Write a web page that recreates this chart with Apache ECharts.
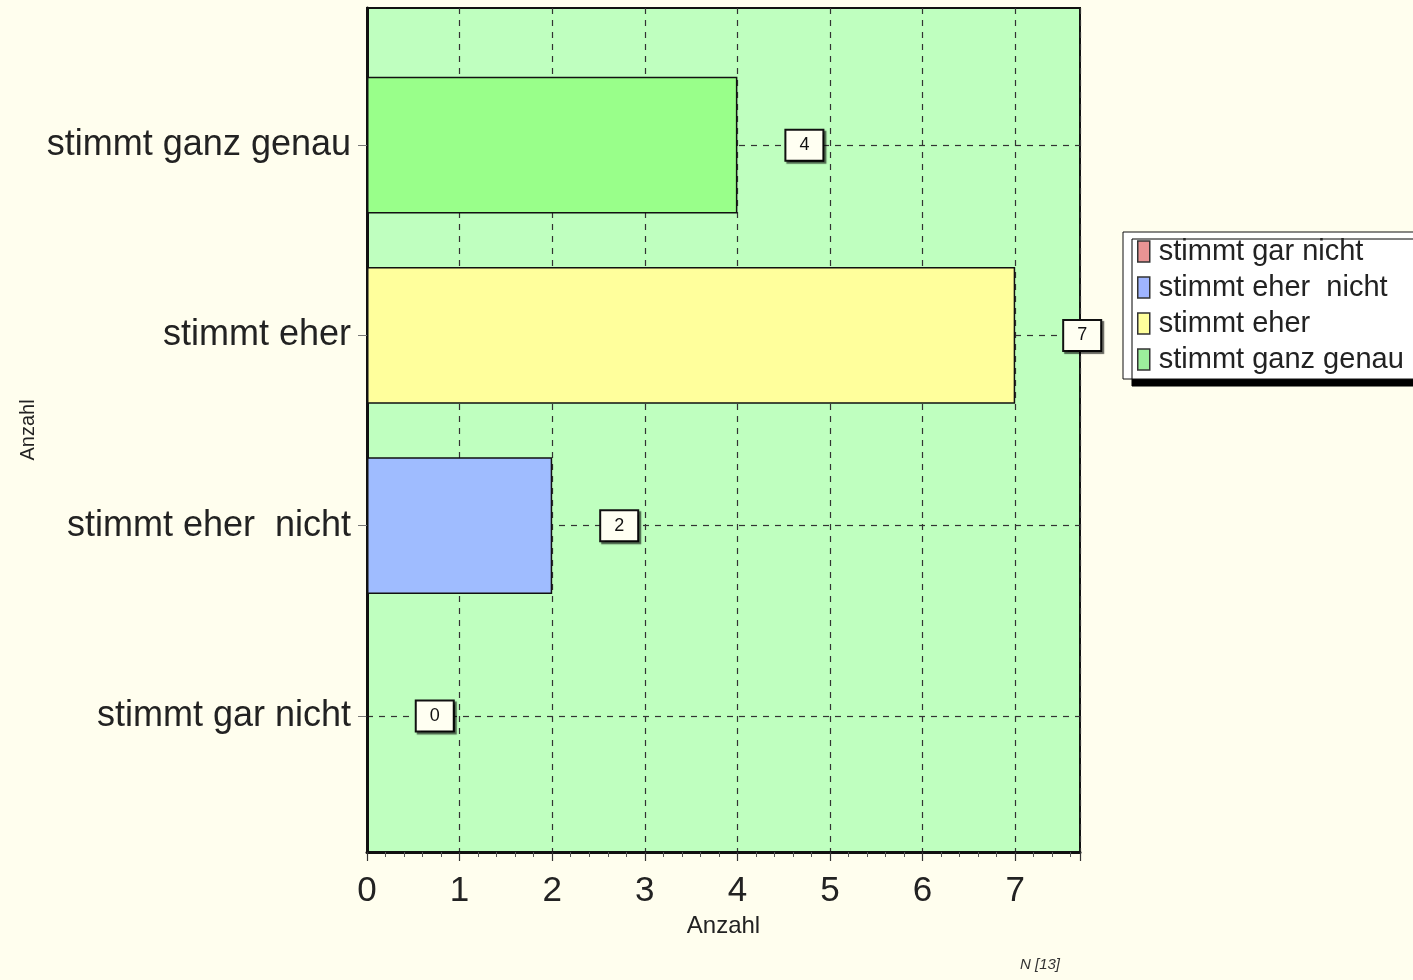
<!DOCTYPE html>
<html>
<head>
<meta charset="utf-8">
<script src="https://cdn.jsdelivr.net/npm/echarts@6/dist/echarts.min.js"></script>
<style>
html,body{margin:0;padding:0;background:#fffeee;}
#chart{width:1413px;height:980px;}
</style>
</head>
<body>
<div id="chart"></div>
<script>
const categories = ['stimmt gar nicht', 'stimmt eher  nicht', 'stimmt eher', 'stimmt ganz genau'];
const values = [0, 2, 7, 4];
const barColors = ['#e89494', '#9fbcff', '#ffff9c', '#99ff8a'];
const legendColors = ['#e89494', '#9fb4ff', '#ffff9c', '#9cee9c'];
const axisName = 'Anzahl';
const footnote = 'N [13]';

const chart = echarts.init(document.getElementById('chart'));
const font = 'Liberation Sans, Arial, sans-serif';

const series = categories.map((c, i) => ({
  name: c,
  type: 'bar',
  xAxisIndex: 1,
  yAxisIndex: 1,
  stack: 's',
  barCategoryGap: '28%',
  itemStyle: { color: barColors[i], borderColor: '#111', borderWidth: 1.5 },
  label: {
    show: true,
    position: 'right',
    distance: 49,
    color: '#111',
    fontFamily: font,
    fontSize: 18,
    backgroundColor: '#fffff2',
    borderColor: '#111',
    borderWidth: 2,
    padding: [6, 13, 5, 13],
    shadowColor: 'rgba(0,0,0,0.6)',
    shadowOffsetX: 2,
    shadowOffsetY: 2,
    shadowBlur: 1
  },
  data: values.map((v, j) => (j === i ? v : '-'))
}));

const legendData = categories.map((c, i) => ({
  name: c,
  itemStyle: { color: legendColors[i], borderColor: '#333', borderWidth: 1.5 }
}));

chart.setOption({
  backgroundColor: '#fffeee',
  animation: false,
  textStyle: { fontFamily: font },
  grid: [
    { left: 367, top: 8, width: 713, height: 844, show: true, backgroundColor: '#bfffbf', borderColor: '#111', borderWidth: 2 },
    { left: 367, top: 50, width: 713, height: 761 },
    { left: 367, top: 145, width: 713, height: 571 }
  ],
  xAxis: [
    {
      gridIndex: 0, type: 'value', min: 0, max: 7.7, interval: 1,
      name: axisName, nameLocation: 'middle', nameGap: 62,
      nameTextStyle: { fontSize: 24, color: '#222', fontFamily: font },
      axisLine: { show: true, lineStyle: { color: '#111', width: 3 } },
      axisTick: { show: true, length: 9, lineStyle: { color: '#333', width: 1.2 } },
      minorTick: { show: true, splitNumber: 5, length: 5, lineStyle: { color: '#555' } },
      axisLabel: { fontSize: 35, color: '#222', margin: 22, showMaxLabel: false, fontFamily: font },
      splitLine: { show: true, lineStyle: { color: '#333', type: [6, 6], width: 1.2 } }
    },
    { gridIndex: 1, type: 'value', min: 0, max: 7.7, show: false },
    { gridIndex: 2, type: 'value', min: 0, max: 1, show: false }
  ],
  yAxis: [
    {
      gridIndex: 0, type: 'value', min: 0, max: 1,
      name: axisName, nameLocation: 'middle', nameGap: 329, nameRotate: 90,
      nameTextStyle: { fontSize: 20, color: '#222', fontFamily: font },
      axisLine: { show: true, lineStyle: { color: '#111', width: 3 } },
      axisTick: { show: false }, axisLabel: { show: false }, splitLine: { show: false }
    },
    {
      gridIndex: 1, type: 'category', data: categories,
      axisLine: { show: false },
      axisTick: { show: true, alignWithLabel: true, length: 9, lineStyle: { color: '#777' } },
      axisLabel: { fontSize: 36, color: '#222', margin: 16, fontFamily: font },
      splitLine: { show: false }
    },
    {
      gridIndex: 2, type: 'category', data: categories, boundaryGap: false,
      axisLine: { show: false }, axisTick: { show: false }, axisLabel: { show: false },
      splitLine: { show: true, lineStyle: { color: '#333', type: [6, 6], width: 1.2 } }
    }
  ],
  legend: {
    orient: 'vertical',
    left: 1123,
    top: 232,
    data: legendData,
    icon: 'rect',
    itemWidth: 12,
    itemHeight: 21,
    itemGap: 7,
    backgroundColor: '#ffffff',
    borderColor: '#111',
    borderWidth: 1,
    borderRadius: 0,
    padding: [5, 40, 5, 14],
    shadowColor: '#000',
    shadowOffsetX: 9,
    shadowOffsetY: 7,
    shadowBlur: 0.5,
    selectedMode: false,
    textStyle: { fontSize: 29, color: '#222', fontFamily: font, padding: [0, 0, 0, 4] }
  },
  graphic: [
    { type: 'text', left: 1020, top: 957, style: { text: footnote, fontSize: 15, fontStyle: 'italic', fill: '#333', fontFamily: font } }
  ],
  series: series
});
</script>
</body>
</html>
